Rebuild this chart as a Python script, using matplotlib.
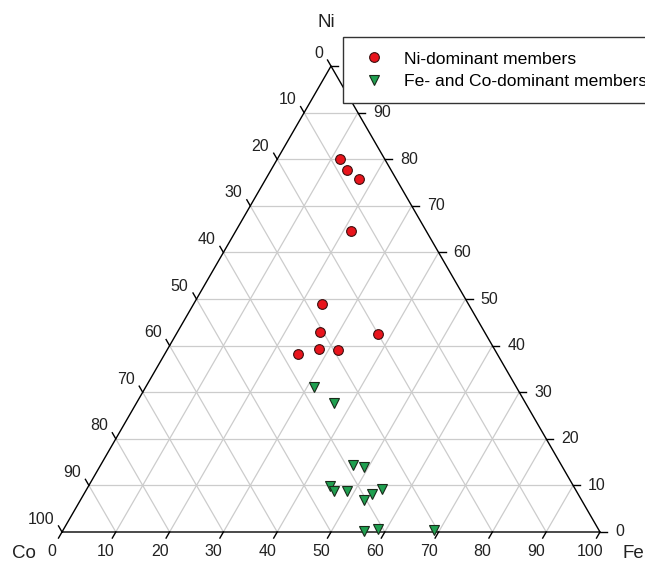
import numpy as np
import matplotlib
matplotlib.use("Agg")
import matplotlib.pyplot as plt

plt.rcParams["font.family"] = ["Liberation Sans", "DejaVu Sans"]

# compositions in % (Co = 100 - Ni - Fe)
ni_dom_ni = [80.0, 77.8, 75.8, 64.7, 49.0, 42.9, 42.6, 38.3, 39.2, 39.1]
ni_dom_fe = [11.7, 14.0, 17.3, 21.4, 23.8, 26.5, 37.5, 24.7, 28.2, 31.7]

feco_ni = [31.2, 27.6, 14.4, 13.9, 9.9, 8.7, 8.7, 9.2, 8.1, 6.8, 0.2, 0.7, 0.4]
feco_fe = [31.2, 36.7, 46.9, 49.1, 44.8, 46.2, 48.6, 54.8, 53.5, 52.7, 56.0, 58.3, 68.9]

tick_values = list(range(0, 101, 10))
label_ni, label_co, label_fe = "Ni", "Co", "Fe"
legend_labels = ["Ni-dominant members", "Fe- and Co-dominant members"]

H = np.sqrt(3) / 2
PX = 1 / 5.38  # one pixel in data units


def to_xy(ni, fe):
    ni = np.asarray(ni, dtype=float)
    fe = np.asarray(fe, dtype=float)
    return fe + ni / 2, ni * H


fig = plt.figure(figsize=(6.45, 5.66), dpi=100)
ax = fig.add_axes([0, 0, 1, 1])
ax.set_xlim(-62 * PX, (645 - 62) * PX)
ax.set_ylim(-(566 - 532) * PX, 532 * PX)
ax.axis("off")

grid_kw = dict(color="#cccccc", lw=0.9, zorder=1)
for v in range(10, 100, 10):
    # constant Ni (horizontal)
    x0, y0 = to_xy(v, 0)
    x1, y1 = to_xy(v, 100 - v)
    ax.plot([x0, x1], [y0, y1], **grid_kw)
    # constant Fe
    x0, y0 = to_xy(0, v)
    x1, y1 = to_xy(100 - v, v)
    ax.plot([x0, x1], [y0, y1], **grid_kw)
    # constant Co
    x0, y0 = to_xy(100 - v, 0)
    x1, y1 = to_xy(0, 100 - v)
    ax.plot([x0, x1], [y0, y1], **grid_kw)

# triangle outline
tx, ty = to_xy([0, 0, 100, 0], [0, 100, 0, 0])
ax.plot(tx, ty, color="black", lw=1.0, zorder=2)

tick_len = 7 * PX
fs = 11.5
for v in tick_values:
    # bottom axis (Fe), ticks down-left
    x, y = to_xy(0, v)
    ax.plot([x, x - 0.5 * tick_len], [y, y - H * tick_len], color="black", lw=1.0)
    ax.text(x - 10 * PX, y - 20 * PX, str(v), ha="center", va="center", fontsize=fs, color="#222222")
    # left axis (Co), ticks up-left
    x, y = to_xy(100 - v, 0)
    ax.plot([x, x - 0.5 * tick_len], [y, y + H * tick_len], color="black", lw=1.0)
    ax.text(x - 8 * PX, y + 13 * PX, str(v), ha="right", va="center", fontsize=fs, color="#222222")
    # right axis (Ni), ticks to the right
    x, y = to_xy(v, 100 - v)
    ax.plot([x, x + tick_len], [y, y], color="black", lw=1.0)
    ax.text(x + 15 * PX, y, str(v), ha="left", va="center", fontsize=fs, color="#222222")

# corner labels
ax.text(50 - 5 * PX, 100 * H + 44 * PX, label_ni, ha="center", va="center", fontsize=13.5, color="#222222")
ax.text(-38 * PX, -22 * PX, label_co, ha="center", va="center", fontsize=13.5, color="#222222")
ax.text(100 + 23 * PX, -22 * PX, label_fe, ha="left", va="center", fontsize=13.5, color="#222222")

x, y = to_xy(ni_dom_ni, ni_dom_fe)
ax.plot(x, y, "o", ls="none", color="#e8141c", mec="#3a1010", mew=0.8, ms=7,
        label=legend_labels[0], zorder=5)
x, y = to_xy(feco_ni, feco_fe)
ax.plot(x, y, "v", ls="none", color="#1fa050", mec="#1a2a1a", mew=0.8, ms=7.5,
        label=legend_labels[1], zorder=5)

leg = ax.legend(loc="upper left", bbox_to_anchor=(343 / 645, 1 - 37 / 566),
                bbox_transform=fig.transFigure, fontsize=12.6, frameon=True,
                fancybox=False, framealpha=1, edgecolor="#333333",
                borderpad=0.82, labelspacing=0.4, handlelength=1.9,
                handletextpad=0.75, borderaxespad=0)
leg.get_frame().set_linewidth(1.0)

fig.savefig("out.png", dpi=100)
